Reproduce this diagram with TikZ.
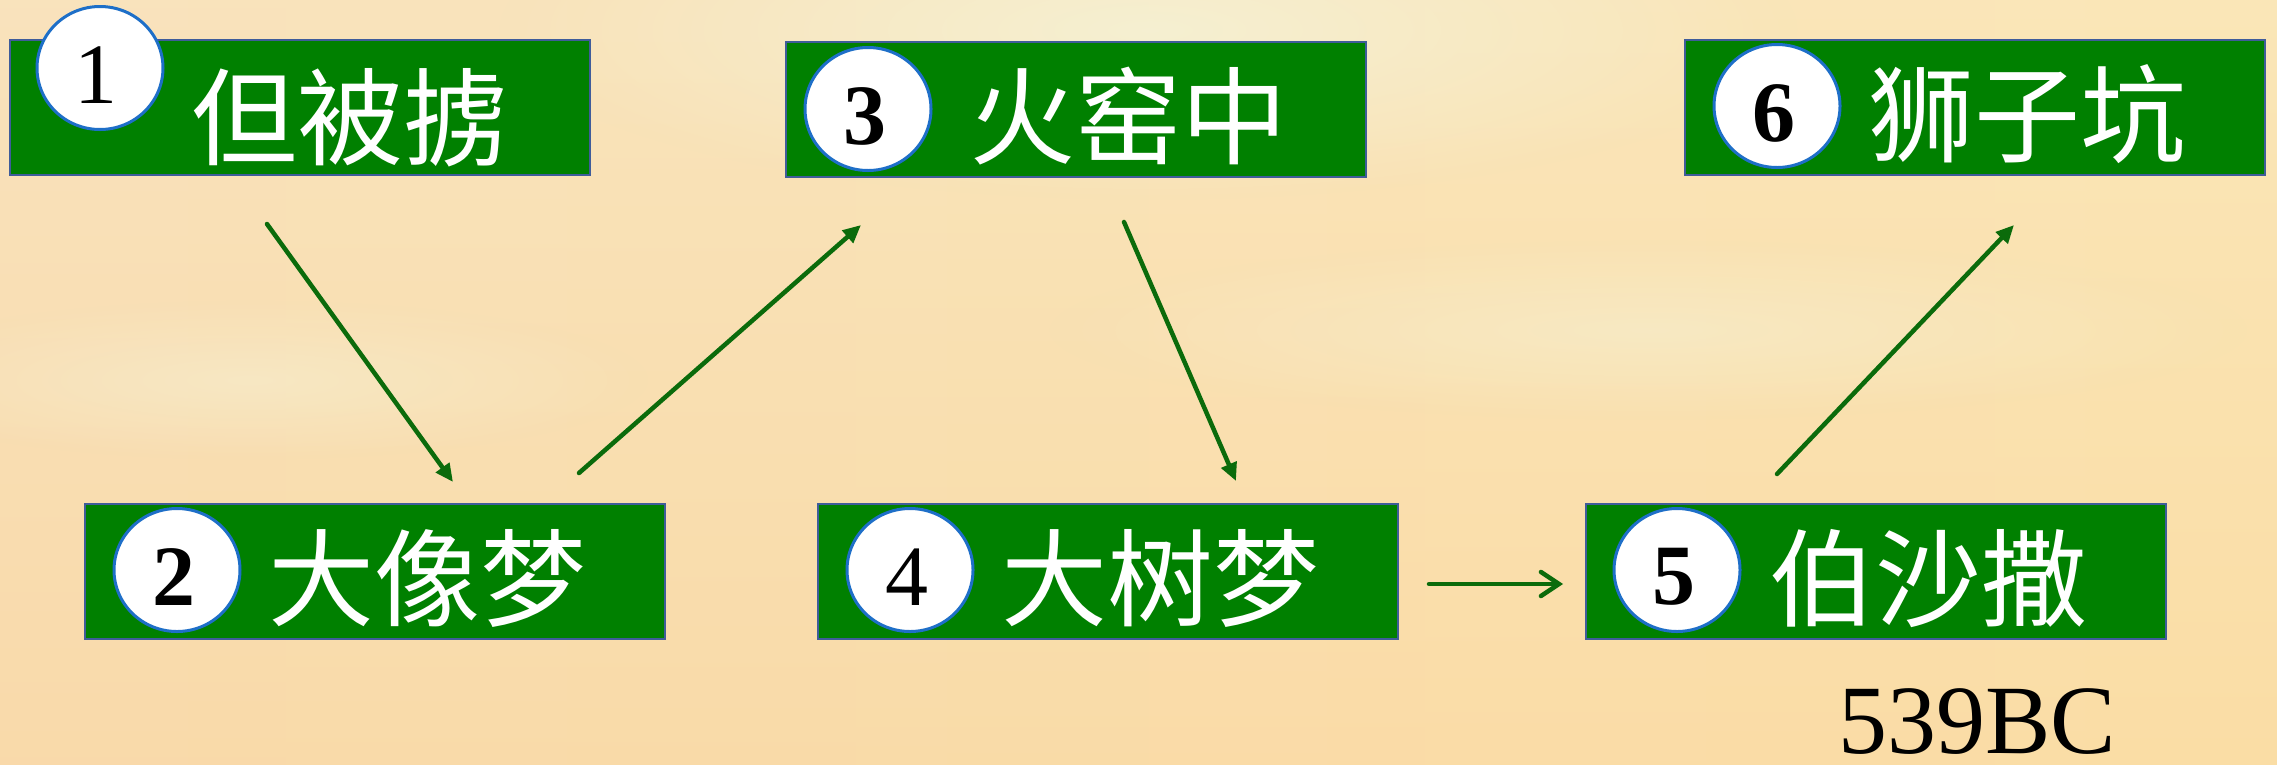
\documentclass[tikz,border=0pt]{standalone}
\usepackage{fontspec}
\setmainfont{Liberation Serif}
\newfontfamily\cjk{Noto Sans CJK SC}
\usetikzlibrary{arrows.meta,shapes.geometric,fadings}
\definecolor{boxgreen}{HTML}{008000}
\definecolor{boxborder}{HTML}{3F5C9A}
\definecolor{circborder}{HTML}{1E6FC8}
\definecolor{arrowgreen}{HTML}{0B6B0B}
\definecolor{bgL}{HTML}{F8DDAE}
\definecolor{bgM}{HTML}{FAEBC2}
\definecolor{bgR}{HTML}{F9E1A8}
\definecolor{bgPale}{HTML}{F5F1D4}
\tikzfading[name=softblob, inner color=transparent!0, outer color=transparent!100]
\begin{document}
\begin{tikzpicture}[x=1pt,y=-1pt,
  box/.style={draw=boxborder, line width=2pt, fill=boxgreen, anchor=north west,
    minimum width=580pt, minimum height=135pt, inner sep=0pt},
  numcirc/.style={ellipse, draw=circborder, line width=3pt, fill=white,
    minimum width=126pt, minimum height=123pt, inner sep=0pt},
  numtxt/.style={font=\fontsize{86}{86}\selectfont, inner sep=0pt, text=black},
  numbold/.style={numtxt, font=\fontsize{86}{86}\selectfont\bfseries},
  boxtext/.style={font=\cjk\fontsize{106}{106}\selectfont, text=white, anchor=west, inner sep=0pt},
  conn/.style={draw=arrowgreen, line width=4.5pt, line cap=round, -{Triangle[length=18pt,width=16pt]}},
  connh/.style={draw=arrowgreen, line width=4.5pt, line cap=round, -{Straight Barb[length=18pt,width=24pt,line cap=round]}}
]
\useasboundingbox (0,0) rectangle (2277,764);
% background
\shade[left color=bgL, middle color=bgM, right color=bgR] (0,0) rectangle (2277,764);
\shade[top color=white, bottom color=orange!40, opacity=0.18] (0,0) rectangle (2277,764);
\fill[bgPale, path fading=softblob, opacity=0.9] (1150,30) ellipse (650 and 170);
\fill[bgPale, path fading=softblob, opacity=0.5] (1650,330) ellipse (600 and 90);
\fill[bgPale, path fading=softblob, opacity=0.5] (250,380) ellipse (400 and 80);

% boxes
\node[box] (b1) at (9,39) {};
\node[box] (b3) at (785,41) {};
\node[box] (b6) at (1684,39) {};
\node[box] (b2) at (84,503) {};
\node[box] (b4) at (817,503) {};
\node[box] (b5) at (1585,503) {};

% number circles
\node[numcirc] (c1) at (100,68) {};
\node[numcirc] (c3) at (868,109) {};
\node[numcirc] (c6) at (1777,106) {};
\node[numcirc] (c2) at (177,570) {};
\node[numcirc] (c4) at (910,570) {};
\node[numcirc] (c5) at (1677,570) {};

\node[numtxt] (n1) at ([shift={(-4,7)}]c1.center) {1};
\node[numbold] (n3) at ([shift={(-3,7)}]c3.center) {3};
\node[numbold] (n6) at ([shift={(-3,7)}]c6.center) {6};
\node[numbold] (n2) at ([shift={(-3,7)}]c2.center) {2};
\node[numtxt] (n4) at ([shift={(-3,7)}]c4.center) {4};
\node[numbold] (n5) at ([shift={(-3,7)}]c5.center) {5};

% labels
\node[boxtext] (t1) at ([shift={(182,10)}]b1.west) {但被掳};
\node[boxtext] (t3) at ([shift={(184,7)}]b3.west) {火窑中};
\node[boxtext] (t6) at ([shift={(184,7)}]b6.west) {狮子坑};
\node[boxtext] (t2) at ([shift={(184,7)}]b2.west) {大像梦};
\node[boxtext] (t4) at ([shift={(184,7)}]b4.west) {大树梦};
\node[boxtext] (t5) at ([shift={(184,7)}]b5.west) {伯沙撒};

\node[font=\fontsize{98}{98}\selectfont, anchor=base west, inner sep=0pt] (year) at (1838,753) {539BC};

% connectors
\coordinate (p12a) at (267,224);
\coordinate (p12b) at (453,482);
\coordinate (p23a) at (579,473);
\coordinate (p23b) at (861,225);
\coordinate (p34a) at (1124,222);
\coordinate (p34b) at (1236,481);
\coordinate (p45a) at (1429,584);
\coordinate (p45b) at (1563,584);
\coordinate (p56a) at (1777,474);
\coordinate (p56b) at (2014,225);

\draw[conn] (p12a) -- (p12b);
\draw[conn] (p23a) -- (p23b);
\draw[conn] (p34a) -- (p34b);
\draw[connh] (p45a) -- (p45b);
\draw[conn] (p56a) -- (p56b);
\end{tikzpicture}
\end{document}
